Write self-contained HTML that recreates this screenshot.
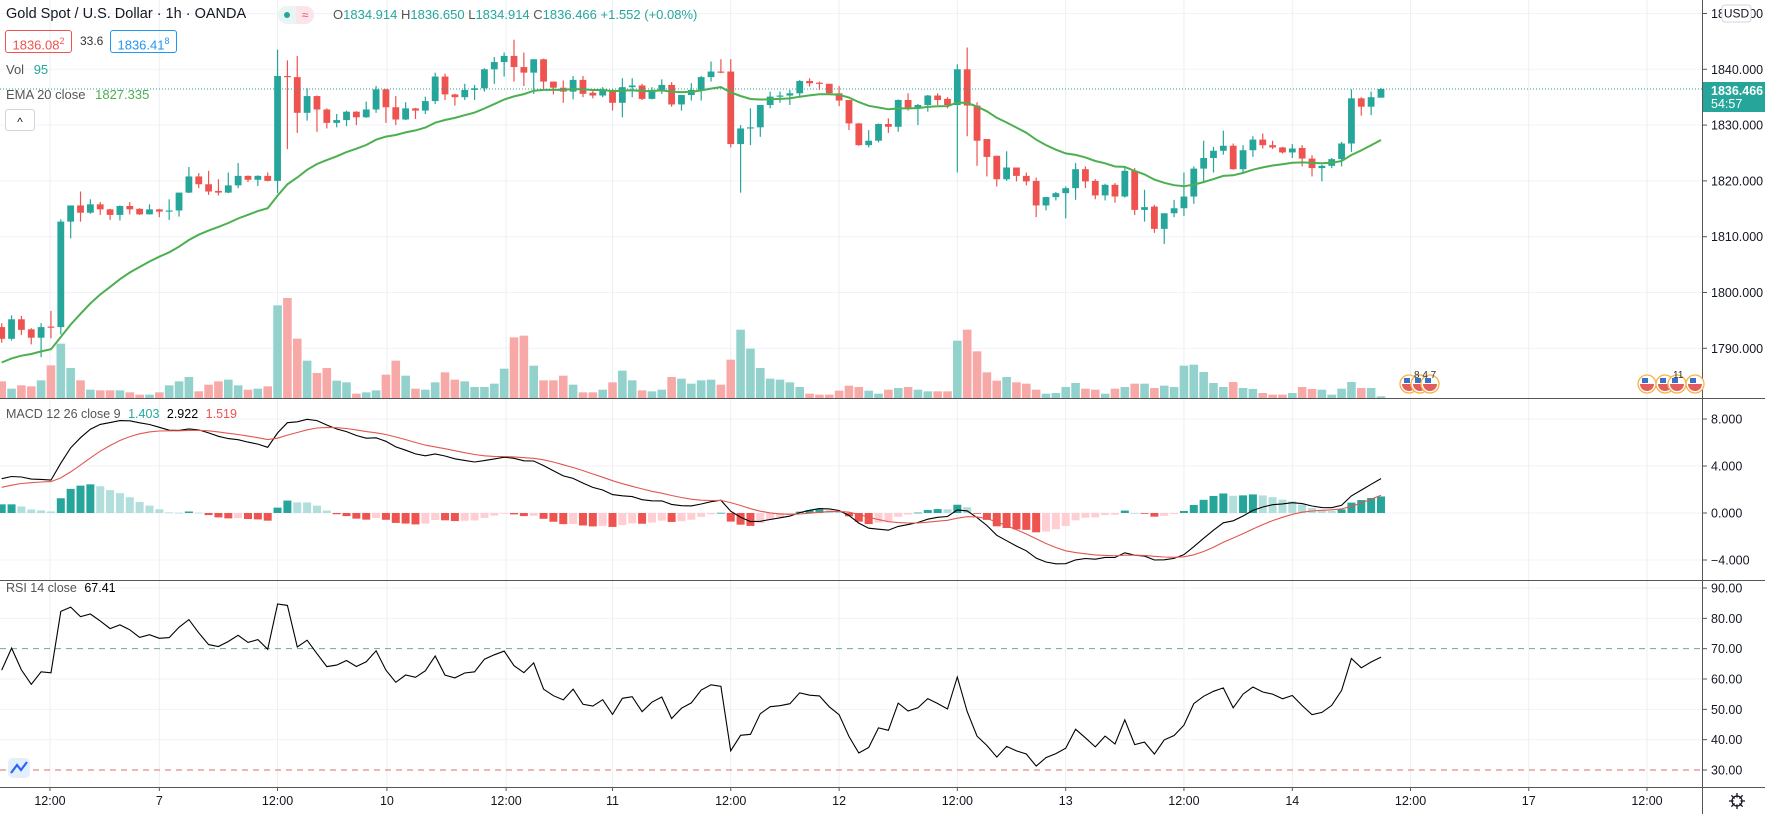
<!DOCTYPE html>
<html><head><meta charset="utf-8"><style>
body{margin:0;background:#fff;width:1765px;height:814px;overflow:hidden;font-family:"Liberation Sans",sans-serif;}
#wrap{position:relative;width:1765px;height:814px;}
svg{position:absolute;left:0;top:0;}
.lbl{position:absolute;font-size:13px;color:#131722;white-space:nowrap;}
</style></head><body>
<div id="wrap">
<svg id="chart" width="1765" height="814"></svg>
<div class="lbl" style="left:6px;top:6px;font-size:14.5px;color:#131722">Gold Spot / U.S. Dollar · 1h · OANDA</div>
<div style="position:absolute;left:278px;top:6px;width:36px;height:18px;border-radius:9px;background:#e8f5f3;overflow:hidden"><span style="position:absolute;left:0;top:0;width:18px;height:18px;"><span style="position:absolute;left:6px;top:6px;width:6px;height:6px;border-radius:3px;background:#26a69a"></span></span><span style="position:absolute;left:18px;top:0;width:18px;height:18px;background:#fce4ec;color:#ef5350;font-size:12px;text-align:center;line-height:18px">≈</span></div>
<div class="lbl" style="left:333px;top:7px;font-size:13px;color:#26a69a"><span style="color:#555">O</span>1834.914 <span style="color:#555">H</span>1836.650 <span style="color:#555">L</span>1834.914 <span style="color:#555">C</span>1836.466 +1.552 (+0.08%)</div>
<div class="lbl" style="left:5px;top:30px;width:65px;height:21px;border:1px solid #ef5350;border-radius:3px;color:#ef5350;font-size:13px;line-height:21px;text-align:center">1836.08<sup style="font-size:9px">2</sup></div>
<div class="lbl" style="left:80px;top:34px;font-size:12px;color:#333">33.6</div>
<div class="lbl" style="left:110px;top:30px;width:65px;height:21px;border:1px solid #2196f3;border-radius:3px;color:#2196f3;font-size:13px;line-height:21px;text-align:center">1836.41<sup style="font-size:9px">8</sup></div>
<div class="lbl" style="left:6px;top:62px;color:#555">Vol <span style="color:#26a69a;margin-left:6px">95</span></div>
<div class="lbl" style="left:6px;top:87px;color:#555">EMA 20 close <span style="color:#4caf50;margin-left:6px">1827.335</span></div>
<div style="position:absolute;left:5px;top:109px;width:28px;height:20px;border:1px solid #d1d4dc;border-radius:3px;font-size:12px;text-align:center;line-height:24px;color:#131722;background:#fff">^</div>
<div class="lbl" style="left:6px;top:407px;color:#555;font-size:12.5px">MACD 12 26 close 9 <span style="color:#26a69a;margin-left:4px">1.403</span> <span style="color:#000;margin-left:4px">2.922</span> <span style="color:#ef5350;margin-left:4px">1.519</span></div>
<div class="lbl" style="left:6px;top:581px;color:#555;font-size:12.5px">RSI 14 close <span style="color:#000;margin-left:4px">67.41</span></div>
</div>
<script>
const opens=[1793.8,1791.7,1795.2,1793.4,1791.9,1793.9,1793.8,1812.7,1815.6,1814.3,1815.8,1814.9,1813.9,1815.5,1815.0,1814.0,1814.9,1814.5,1814.7,1817.9,1820.8,1819.4,1818.2,1817.9,1819.2,1820.9,1820.2,1820.9,1820.0,1838.8,1838.6,1832.2,1835.2,1832.8,1830.4,1830.9,1832.4,1831.4,1832.8,1836.4,1833.2,1831.0,1833.0,1832.6,1834.3,1838.7,1835.5,1835.0,1836.3,1836.6,1840.0,1841.3,1842.4,1840.4,1839.4,1841.8,1837.8,1836.7,1836.0,1838.1,1835.8,1835.3,1836.3,1834.0,1836.8,1837.1,1834.7,1836.3,1837.2,1833.7,1835.4,1836.3,1838.6,1839.6,1839.6,1826.6,1829.4,1829.6,1833.6,1835.1,1835.3,1835.7,1837.9,1837.6,1837.4,1835.7,1834.5,1830.3,1826.4,1827.2,1830.2,1829.7,1834.5,1833.0,1833.6,1835.3,1834.7,1833.6,1840.0,1833.5,1827.5,1824.5,1820.3,1822.4,1820.9,1820.0,1815.6,1817.1,1817.8,1818.7,1822.1,1820.0,1817.4,1819.3,1817.2,1821.8,1814.8,1815.4,1811.4,1814.2,1815.1,1817.2,1822.2,1824.1,1825.4,1826.3,1822.1,1825.5,1827.4,1826.4,1826.0,1825.1,1825.9,1824.0,1822.3,1822.7,1823.9,1826.7,1834.8,1833.3,1834.914];
const highs=[1794.5,1795.9,1795.8,1793.6,1794.5,1796.7,1813.1,1815.6,1818.1,1816.7,1816.2,1815.0,1815.6,1816.2,1815.1,1815.8,1815.0,1816.7,1817.9,1822.5,1821.4,1821.8,1820.3,1821.5,1823.2,1821.0,1821.0,1821.5,1843.5,1841.6,1842.4,1836.6,1835.3,1833.0,1832.0,1832.6,1832.5,1834.2,1837.0,1836.5,1835.2,1834.1,1833.1,1835.1,1839.4,1839.2,1835.6,1837.4,1837.2,1840.2,1842.2,1843.0,1845.3,1843.0,1841.8,1841.9,1837.8,1838.0,1838.8,1838.8,1836.4,1836.8,1836.4,1838.4,1838.4,1837.4,1836.8,1838.2,1837.7,1835.4,1837.5,1838.8,1841.4,1841.8,1841.8,1830.0,1833.0,1833.6,1836.0,1836.0,1836.3,1838.1,1838.4,1837.8,1837.4,1837.0,1834.5,1830.4,1829.1,1830.3,1831.2,1834.6,1835.7,1833.8,1835.4,1835.7,1835.0,1840.9,1843.9,1834.1,1827.5,1824.5,1825.3,1822.4,1821.5,1820.6,1817.1,1818.0,1819.0,1823.2,1822.6,1820.3,1819.5,1819.6,1822.3,1822.3,1818.4,1815.7,1814.2,1816.6,1821.5,1822.6,1827.2,1826.1,1829.0,1826.7,1826.4,1828.0,1828.5,1827.2,1826.1,1826.6,1826.4,1824.6,1822.9,1824.1,1827.0,1836.4,1835.0,1836.0,1836.65];
const lows=[1791.0,1791.4,1792.4,1790.7,1788.4,1791.8,1792.5,1809.7,1812.7,1814.1,1813.9,1813.0,1812.9,1814.0,1813.9,1814.0,1813.5,1813.0,1813.6,1817.8,1818.7,1817.5,1817.4,1817.8,1818.7,1819.8,1819.1,1819.9,1817.8,1825.7,1828.6,1830.8,1828.8,1829.4,1829.6,1829.8,1830.0,1831.3,1832.2,1830.4,1830.0,1830.9,1831.1,1832.0,1833.8,1834.5,1833.5,1834.5,1834.5,1836.0,1837.4,1838.7,1837.8,1837.0,1835.6,1836.3,1835.5,1834.0,1834.6,1835.0,1834.8,1835.0,1832.6,1831.4,1835.0,1834.5,1834.6,1835.6,1833.3,1832.6,1834.4,1834.4,1837.8,1839.3,1826.0,1817.9,1826.4,1827.9,1833.0,1834.0,1833.6,1835.2,1836.9,1836.3,1835.6,1833.4,1829.1,1826.3,1826.0,1826.9,1828.6,1828.8,1832.6,1830.0,1832.4,1833.6,1833.0,1821.5,1828.0,1822.7,1820.8,1819.0,1820.0,1819.9,1819.2,1813.5,1814.7,1816.5,1813.3,1816.6,1818.7,1816.7,1816.5,1816.1,1817.0,1813.9,1812.7,1810.7,1808.7,1813.5,1813.7,1815.9,1819.9,1821.5,1824.7,1822.0,1821.5,1824.3,1825.8,1825.7,1824.9,1824.1,1822.6,1820.8,1819.9,1822.3,1822.6,1825.2,1831.7,1831.8,1834.914];
const closes=[1791.7,1795.2,1793.3,1791.9,1793.8,1793.7,1812.7,1815.6,1814.3,1815.8,1814.9,1813.9,1815.5,1814.9,1814.0,1814.9,1814.5,1814.7,1817.9,1820.8,1819.4,1818.1,1817.9,1819.2,1820.9,1820.2,1820.9,1820.0,1838.8,1838.6,1832.2,1835.2,1832.8,1830.4,1830.9,1832.4,1831.4,1832.8,1836.4,1833.2,1831.0,1833.0,1832.6,1834.3,1838.7,1835.5,1835.0,1836.3,1836.6,1840.0,1841.3,1842.4,1840.4,1839.4,1841.8,1837.8,1836.7,1836.0,1838.1,1835.6,1835.3,1836.4,1834.0,1836.8,1837.1,1834.7,1836.3,1837.2,1833.7,1835.4,1836.3,1838.6,1839.6,1839.4,1826.6,1829.4,1829.6,1833.6,1835.1,1835.3,1835.7,1837.9,1837.5,1837.4,1835.7,1834.4,1830.3,1826.4,1827.2,1830.2,1829.7,1834.5,1833.0,1833.6,1835.3,1834.5,1833.6,1840.0,1833.5,1827.2,1824.3,1820.3,1822.4,1820.9,1819.9,1815.6,1817.1,1817.8,1818.7,1822.1,1819.9,1817.4,1819.3,1817.2,1821.8,1814.8,1815.3,1811.4,1814.2,1815.1,1817.2,1822.2,1824.1,1825.4,1826.3,1822.1,1825.5,1827.4,1826.4,1826.0,1825.1,1825.8,1824.0,1822.3,1822.7,1823.9,1826.7,1834.8,1833.3,1835.0,1836.466];
const volumes=[50,28,38,35,53,98,163,90,53,25,23,23,23,17,10,10,17,38,50,63,20,40,50,55,38,25,28,35,278,300,178,112,75,90,52,47,13,17,23,70,112,67,28,25,47,77,55,50,33,33,43,88,182,187,97,53,53,67,40,17,17,25,47,82,53,23,20,25,63,58,43,53,55,40,115,205,148,90,58,55,47,33,13,10,10,22,37,33,22,13,25,30,33,25,20,20,20,172,205,140,77,52,63,47,43,25,13,15,33,45,28,25,13,28,33,43,43,30,37,33,97,100,78,45,33,48,30,27,15,10,10,15,33,27,25,10,28,48,30,30,5];
const priceTicks=[1850,1840,1830,1820,1810,1800,1790];
const macdTicks=[8,4,0,-4];
const rsiTicks=[90,80,70,60,50,40,30];
const timeLabels=["12:00","7","12:00","10","12:00","11","12:00","12","12:00","13","12:00","14","12:00","17","12:00"];
const timeIndex=[4.9,16,28,39.1,51.2,62,74,85,97,108,120,131,143,155,167];
const emaSeed=1787.0, ema12Seed=1789.9, ema26Seed=1786.9, signalSeed=2.0;
const rsiSeedGain=0.75, rsiSeedLoss=0.28, rsiSeedClose=1793.8;
const lastPrice=1836.466;

const NS="http://www.w3.org/2000/svg";
const svg=document.getElementById('chart');
const PR=1702, X0=1.7, DX=9.852;
const xI=i=>X0+i*DX;
const yP=p=>69.3+(1840-p)*5.58;
const yM=v=>513-v*11.75;
const yR=v=>770-(v-30)*3.033;
const yV=v=>398-v/3;
function el(tag,attrs,parent){const e=document.createElementNS(NS,tag);for(const k in attrs)e.setAttribute(k,attrs[k]);(parent||svg).appendChild(e);return e;}
const GREEN='#26a69a',RED='#ef5350';

const grid=el('g',{});


priceTicks.forEach(p=>el('line',{x1:0,x2:PR,y1:yP(p),y2:yP(p),stroke:'#f0f3fa','stroke-width':1},grid));
macdTicks.forEach(v=>el('line',{x1:0,x2:PR,y1:yM(v),y2:yM(v),stroke:'#f0f3fa'},grid));
rsiTicks.forEach(v=>{if(v!==70&&v!==30)el('line',{x1:0,x2:PR,y1:yR(v),y2:yR(v),stroke:'#f0f3fa'},grid);});
timeIndex.forEach(t=>el('line',{x1:xI(t),x2:xI(t),y1:0,y2:787,stroke:'#eceff4'},grid));

const defs=el('defs',{});
const cp=el('clipPath',{id:'mainclip'},defs);el('rect',{x:0,y:0,width:PR,height:398},cp);
const cp2=el('clipPath',{id:'macdclip'},defs);el('rect',{x:0,y:399,width:PR,height:181},cp2);

const vg=el('g',{'clip-path':'url(#mainclip)'});


volumes.forEach((v,i)=>{const up=closes[i]>=opens[i];
 const r=el('rect',{x:xI(i)-4.3,y:yV(v),width:8.6,height:398-yV(v),fill:up?'#93d2cc':'#f7a9a7'},vg);
 
 });

const cg=el('g',{'clip-path':'url(#mainclip)'});


closes.forEach((c,i)=>{const o=opens[i],up=c>=o,col=up?GREEN:RED,x=xI(i);
 el('line',{x1:x,x2:x,y1:yP(highs[i]),y2:yP(lows[i]),stroke:col,'stroke-width':1.2},cg);
 const top=yP(Math.max(o,c)),h=Math.max(1.2,yP(Math.min(o,c))-top);
 const r=el('rect',{x:x-3.4,y:top,width:6.8,height:h,fill:col},cg);
 
 });

let ema=emaSeed;const emaPts=[];
closes.forEach((c,i)=>{ema=ema+(c-ema)*2/21;emaPts.push(xI(i).toFixed(1)+','+yP(ema).toFixed(1));});
const emaLine=el('polyline',{points:emaPts.join(' '),fill:'none',stroke:'#4caf50','stroke-width':2,'clip-path':'url(#mainclip)'});



const lp=el('line',{x1:0,x2:PR,y1:yP(lastPrice),y2:yP(lastPrice),stroke:GREEN,'stroke-dasharray':'1,2','stroke-width':1});



let e12=ema12Seed,e26=ema26Seed,sig=signalSeed,prevH=null;const mP=[],sP=[];
const hg=el('g',{'clip-path':'url(#macdclip)'});


closes.forEach((c,i)=>{e12+= (c-e12)*2/13;e26+=(c-e26)*2/27;const m=e12-e26;sig+=(m-sig)*2/10;const h=m-sig;
 let col;if(h>=0)col=(prevH===null||h>=prevH)?GREEN:'#b2dfdb';else col=(prevH===null||h<=prevH)?RED:'#ffcdd2';
 prevH=h;const y0=yM(0),y1=yM(h);
 const r=el('rect',{x:xI(i)-4,y:Math.min(y0,y1),width:8,height:Math.max(0.8,Math.abs(y1-y0)),fill:col},hg);
 
 
 mP.push(xI(i).toFixed(1)+','+yM(m).toFixed(1));sP.push(xI(i).toFixed(1)+','+yM(sig).toFixed(1));});
const ml=el('polyline',{points:mP.join(' '),fill:'none',stroke:'#000','stroke-width':1.1,'clip-path':'url(#macdclip)'});


const sl=el('polyline',{points:sP.join(' '),fill:'none',stroke:'#e0584f','stroke-width':1.1,'clip-path':'url(#macdclip)'});



const r70=el('line',{x1:0,x2:PR,y1:yR(70),y2:yR(70),stroke:'#6fa89a','stroke-dasharray':'6,5'});


const r30=el('line',{x1:0,x2:PR,y1:yR(30),y2:yR(30),stroke:'#d9706b','stroke-dasharray':'6,5'});


let ag=rsiSeedGain,al=rsiSeedLoss,pc=rsiSeedClose;const rP=[];
closes.forEach((c,i)=>{const d=c-pc;pc=c;ag=(ag*13+Math.max(d,0))/14;al=(al*13+Math.max(-d,0))/14;const rsi=100-100/(1+ag/al);rP.push(xI(i).toFixed(1)+','+yR(rsi).toFixed(1));});
const rl=el('polyline',{points:rP.join(' '),fill:'none',stroke:'#000','stroke-width':1.1});



el('line',{x1:0,x2:1765,y1:398.5,y2:398.5,stroke:'#555'});
el('line',{x1:0,x2:1765,y1:580.5,y2:580.5,stroke:'#555'});
el('line',{x1:0,x2:1765,y1:787.5,y2:787.5,stroke:'#555'});
el('line',{x1:PR+0.5,x2:PR+0.5,y1:0,y2:814,stroke:'#555'});

const ax=el('g',{'font-family':'Liberation Sans, sans-serif','font-size':12.5,fill:'#131722'});


function tick(y,txt,name){el('line',{x1:PR,x2:PR+5,y1:y,y2:y,stroke:'#555'},ax);const t=el('text',{x:PR+9,y:y+4.5},ax);t.textContent=txt;}
priceTicks.forEach(p=>tick(yP(p),p.toFixed(3),'price-tick-label'));
macdTicks.forEach(v=>tick(yM(v),(v<0?'−':'')+Math.abs(v).toFixed(3),'macd-tick-label'));
rsiTicks.forEach(v=>tick(yR(v),v.toFixed(2),'rsi-tick-label'));
timeLabels.forEach((s,k)=>{const x=xI(timeIndex[k]);el('line',{x1:x,x2:x,y1:787,y2:791,stroke:'#555'},ax);const t=el('text',{x:x,y:805,'text-anchor':'middle'},ax);t.textContent=s;});

const ub=el('g',{});


el('rect',{x:1722,y:5,width:29,height:17,rx:3,fill:'#fff',stroke:'#d1d4dc'},ub);
const ut=el('text',{x:1736.5,y:17.5,'text-anchor':'middle','font-size':12,'font-family':'Liberation Sans, sans-serif',fill:'#131722'},ub);ut.textContent='USD';

const tg=el('g',{'font-family':'Liberation Sans, sans-serif','font-size':12.5,'font-weight':'bold',fill:'#fff'});


el('rect',{x:PR+1,y:82,width:62,height:30,fill:GREEN},tg);
const t1=el('text',{x:PR+9,y:95},tg);t1.textContent='1836.466';
const t2=el('text',{x:PR+9,y:108,'font-weight':'normal'},tg);t2.textContent='54:57';

const fg=el('g',{});


[1409,1420,1430,1647,1665,1677,1695].forEach(x=>{el('circle',{cx:x,cy:384,r:9,fill:'#fff',stroke:'#f5b342','stroke-width':1.3},fg);el('path',{d:`M${x-7} 384 A7 7 0 0 0 ${x+7} 384 Z`,fill:'#e35b5b'},fg);el('rect',{x:x-5,y:378,width:6,height:5,fill:'#3d6fc7'},fg);});
const ft=el('text',{x:1414,y:378,'font-size':10,fill:'#333','font-family':'Liberation Sans, sans-serif'},fg);ft.textContent='8 4 7';
const ft2=el('text',{x:1673,y:378,'font-size':10,fill:'#333','font-family':'Liberation Sans, sans-serif'},fg);ft2.textContent='11';

const lg=el('g',{});


el('rect',{x:8,y:758,width:22,height:20,rx:5,fill:'#e3effd'},lg);
el('path',{d:'M11 773 L17 765 L21 770 L27 762',fill:'none',stroke:'#2962ff','stroke-width':2.2},lg);

const gg=el('g',{});


el('circle',{cx:1737,cy:801,r:5,fill:'none',stroke:'#131722','stroke-width':1.3},gg);
[0,45,90,135].forEach(a=>{const r=a*Math.PI/180;el('line',{x1:1737+Math.cos(r)*8,y1:801+Math.sin(r)*8,x2:1737-Math.cos(r)*8,y2:801-Math.sin(r)*8,stroke:'#131722','stroke-width':1.3},gg);});
el('circle',{cx:1737,cy:801,r:3.5,fill:'#fff'},gg);
</script>
</body></html>
